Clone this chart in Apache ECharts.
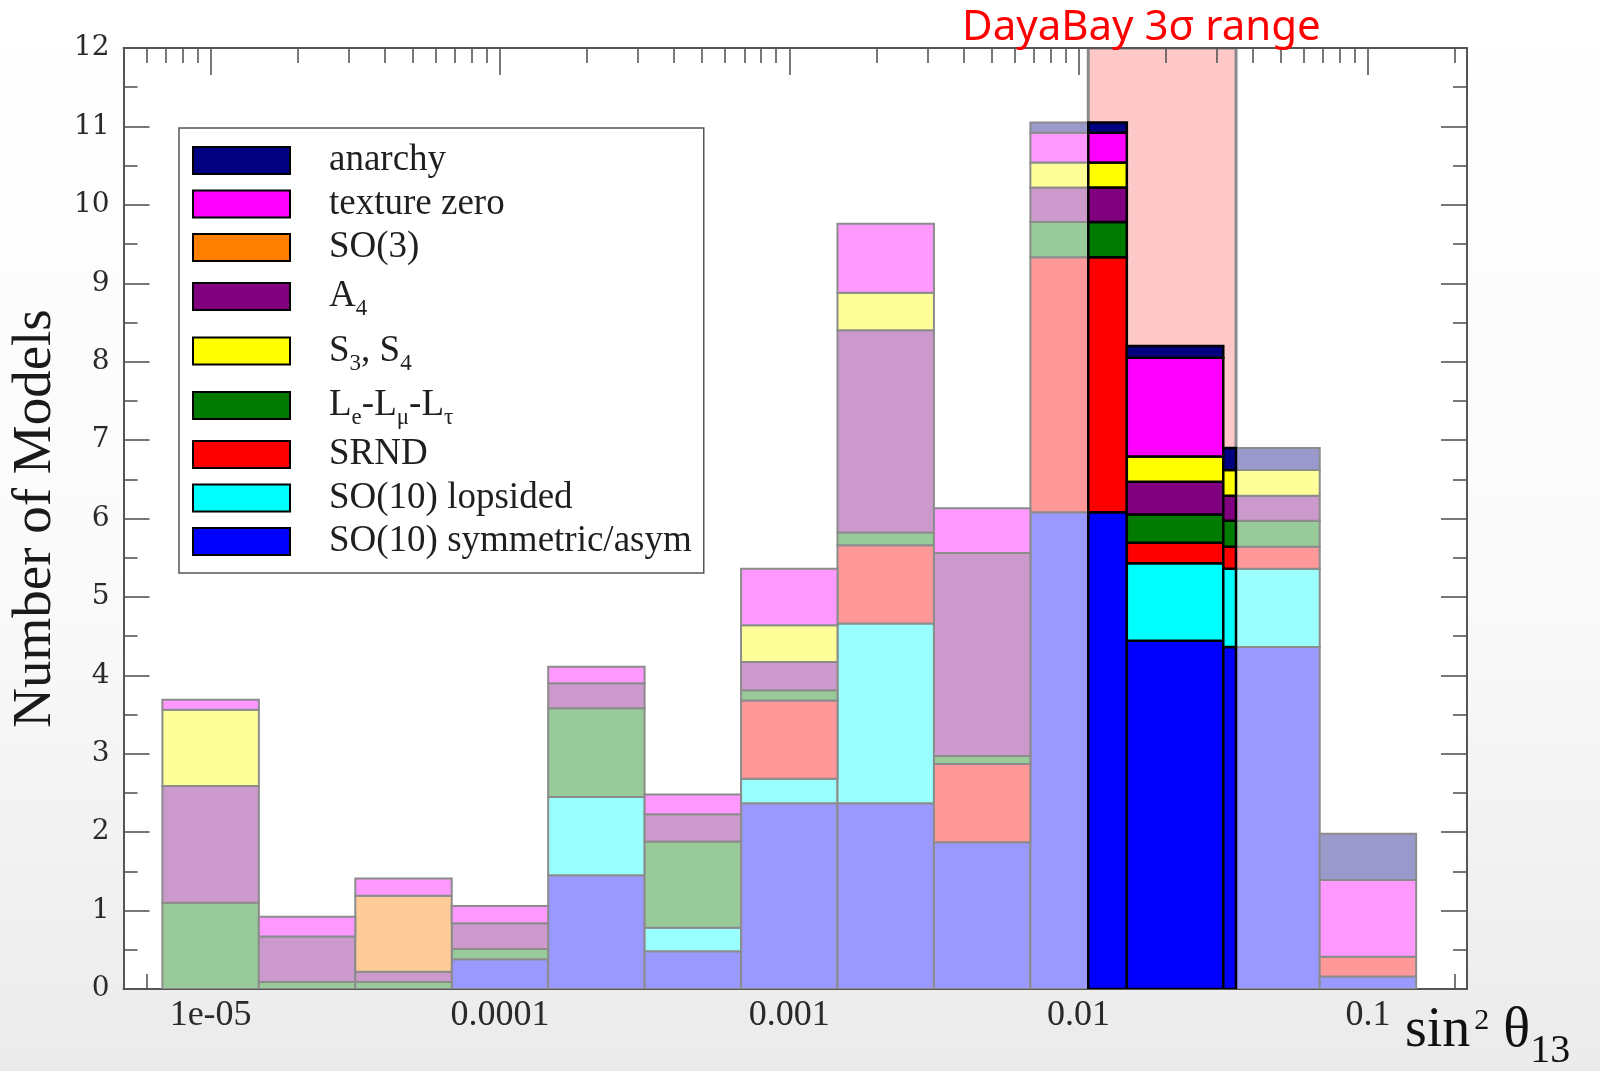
<!DOCTYPE html>
<html>
<head>
<meta charset="utf-8">
<script src="https://cdn.jsdelivr.net/npm/echarts@6/dist/echarts.min.js"></script>
<style>
  html, body { margin: 0; padding: 0; background: #ffffff; }
  #chart { width: 1600px; height: 1071px; }
</style>
</head>
<body>
<div id="chart"></div>
<script>
// Histogram bins: centres as log10(sin^2 theta13), one third of a decade wide
const binCenterExp = [-5, -4.6667, -4.3333, -4, -3.6667, -3.3333, -3, -2.6667, -2.3333, -2, -1.6667, -1.3333, -1];
const binHalfWidthExp = 1 / 6;

// Number of models per bin, one array per model class (bottom of the stack first)
const so10Symmetric = [0, 0, 0, 0.38, 1.45, 0.48, 2.37, 2.37, 1.87, 6.08, 4.44, 4.36, 0.16];
const so10Lopsided  = [0, 0, 0, 0, 1.00, 0.30, 0.31, 2.29, 0, 0, 0.99, 1.00, 0];
const srnd          = [0, 0, 0, 0, 0, 0, 1.00, 1.00, 1.00, 3.25, 0.26, 0.28, 0.25];
const leLmuLtau     = [1.10, 0.09, 0.09, 0.13, 1.13, 1.10, 0.13, 0.16, 0.10, 0.45, 0.36, 0.33, 0];
const a4            = [1.49, 0.58, 0.13, 0.33, 0.32, 0.35, 0.36, 2.58, 2.59, 0.44, 0.42, 0.32, 0];
const s3s4          = [0.97, 0, 0, 0, 0, 0, 0.47, 0.48, 0, 0.32, 0.32, 0.33, 0];
const so3           = [0, 0, 0.97, 0, 0, 0, 0, 0, 0, 0, 0, 0, 0];
const textureZero   = [0.13, 0.25, 0.22, 0.22, 0.21, 0.25, 0.72, 0.88, 0.57, 0.38, 1.26, 0, 0.98];
const anarchy       = [0, 0, 0, 0, 0, 0, 0, 0, 0, 0.13, 0.15, 0.28, 0.59];

// Daya Bay 3 sigma interval for sin^2 theta13
const dayaBayRange = [0.0108, 0.035];

// Axis ranges and tick labels
const xRange = [5e-6, 0.22];
const yRange = [0, 12];
const xTickExp = [-5, -4, -3, -2, -1];
const xTickLabels = ['1e-05', '0.0001', '0.001', '0.01', '0.1'];

const stackOrder = [
  { name: 'SO(10) symmetric/asym', color: '#0000ff', values: so10Symmetric },
  { name: 'SO(10) lopsided',       color: '#00ffff', values: so10Lopsided },
  { name: 'SRND',                  color: '#ff0000', values: srnd },
  { name: 'Le-Lμ-Lτ',              color: '#007a00', values: leLmuLtau },
  { name: 'A4',                    color: '#800080', values: a4 },
  { name: 'S3, S4',                color: '#ffff00', values: s3s4 },
  { name: 'SO(3)',                 color: '#ff8000', values: so3 },
  { name: 'texture zero',          color: '#ff00ff', values: textureZero },
  { name: 'anarchy',               color: '#000080', values: anarchy }
];
const legendOrder = ['anarchy', 'texture zero', 'SO(3)', 'A4', 'S3, S4', 'Le-Lμ-Lτ', 'SRND', 'SO(10) lopsided', 'SO(10) symmetric/asym'];
const legendText = {
  'A4': 'A{sub|4}',
  'S3, S4': 'S{sub|3}, S{sub|4}',
  'Le-Lμ-Lτ': 'L{sub|e}-L{sub|μ}-L{sub|τ}'
};

// washed-out tint used for the parts of the histogram outside the Daya Bay band
function pale(hex) {
  const n = parseInt(hex.slice(1), 16);
  const mix = c => Math.round(255 - 0.4 * (255 - c));
  return 'rgb(' + mix(n >> 16) + ',' + mix((n >> 8) & 255) + ',' + mix(n & 255) + ')';
}

// cumulative stacking of the bins
const base = binCenterExp.map(() => 0);
stackOrder.forEach(s => {
  s.data = [];
  s.values.forEach((v, i) => {
    const lo = base[i];
    base[i] += v;
    if (v > 0) {
      s.data.push([
        Math.pow(10, binCenterExp[i] - binHalfWidthExp),
        Math.pow(10, binCenterExp[i] + binHalfWidthExp),
        lo, lo + v
      ]);
    }
  });
});

function segmentRenderer(color) {
  const light = pale(color);
  return function (params, api) {
    const x0 = api.value(0), x1 = api.value(1), y0 = api.value(2), y1 = api.value(3);
    const lo = dayaBayRange[0], hi = dayaBayRange[1];
    const rect = (a, b, fill, stroke, lw) => {
      const p0 = api.coord([a, y1]);
      const p1 = api.coord([b, y0]);
      return {
        type: 'rect',
        shape: { x: p0[0], y: p0[1], width: p1[0] - p0[0], height: p1[1] - p0[1] },
        style: { fill: fill, stroke: stroke, lineWidth: lw }
      };
    };
    const parts = [];
    if (x0 < lo) parts.push(rect(x0, Math.min(x1, lo), light, '#8c8c8c', 2));
    if (x1 > hi) parts.push(rect(Math.max(x0, hi), x1, light, '#8c8c8c', 2));
    if (x1 > lo && x0 < hi) parts.push(rect(Math.max(x0, lo), Math.min(x1, hi), color, '#000000', 2.5));
    return { type: 'group', children: parts };
  };
}

const axisColor = '#555555';
const serif = 'Liberation Serif';

function xAxisDef(position, showLabels) {
  return {
    type: 'log',
    logBase: 10,
    position: position,
    min: xRange[0],
    max: xRange[1],
    z: 1,
    axisLine: { show: true, onZero: false, lineStyle: { color: axisColor, width: 2 } },
    axisTick: { show: true, inside: true, length: 27, lineStyle: { color: axisColor, width: 1.6 } },
    minorTick: { show: true, splitNumber: 9, length: 15, lineStyle: { color: axisColor, width: 1.6 } },
    splitLine: { show: false },
    minorSplitLine: { show: false },
    axisLabel: {
      show: showLabels,
      margin: 9,
      fontFamily: serif,
      fontSize: 36,
      color: '#2a2a2a',
      formatter: v => {
        const e = Math.log10(v);
        const r = Math.round(e);
        const i = xTickExp.indexOf(r);
        return (i >= 0 && Math.abs(e - r) < 1e-6) ? xTickLabels[i] : '';
      }
    }
  };
}

function yAxisDef(position, showLabels) {
  return {
    type: 'value',
    position: position,
    min: yRange[0],
    max: yRange[1],
    interval: 1,
    z: 1,
    axisLine: { show: true, onZero: false, lineStyle: { color: axisColor, width: 2 } },
    axisTick: { show: true, inside: true, length: 26, lineStyle: { color: axisColor, width: 1.6 } },
    minorTick: { show: true, splitNumber: 2, length: 14, lineStyle: { color: axisColor, width: 1.6 } },
    splitLine: { show: false },
    axisLabel: { show: showLabels, margin: 14, fontFamily: 'DejaVu Serif', fontSize: 28, color: '#2a2a2a' }
  };
}

const chart = echarts.init(document.getElementById('chart'), null, { renderer: 'canvas' });

const xMain = xAxisDef('bottom', true);
xMain.name = '{m|sin}{sup|2}{m| θ}{sub|13}';
xMain.nameLocation = 'end';
xMain.nameGap = -62;
xMain.nameTextStyle = {
  align: 'left',
  verticalAlign: 'top',
  padding: [2, 0, 0, 0],
  rich: {
    m:   { fontFamily: serif, fontSize: 56, lineHeight: 80, verticalAlign: 'middle', color: '#111' },
    sup: { fontFamily: serif, fontSize: 30, lineHeight: 80, verticalAlign: 'middle', color: '#111', padding: [0, 0, 20, 4] },
    sub: { fontFamily: serif, fontSize: 40, lineHeight: 80, verticalAlign: 'bottom', color: '#111' }
  }
};

const yMain = yAxisDef('left', true);
yMain.name = 'Number of Models';
yMain.nameLocation = 'middle';
yMain.nameRotate = 90;
yMain.nameGap = 58;
yMain.nameTextStyle = { fontFamily: serif, fontSize: 55, color: '#1a1a1a' };

const series = [{
  type: 'custom',
  name: 'Daya Bay band',
  z: 0,
  clip: true,
  silent: true,
  xAxisIndex: 0,
  yAxisIndex: 0,
  dimensions: ['x0', 'x1', 'y0', 'y1'],
  encode: { x: [0, 1], y: [2, 3] },
  data: [[dayaBayRange[0], dayaBayRange[1], yRange[0], yRange[1]]],
  renderItem: function (params, api) {
    const p0 = api.coord([api.value(0), api.value(3)]);
    const p1 = api.coord([api.value(1), api.value(2)]);
    return {
      type: 'rect',
      shape: { x: p0[0], y: p0[1], width: p1[0] - p0[0], height: p1[1] - p0[1] },
      style: { fill: '#ffc8c8', stroke: '#8a8a8a', lineWidth: 3 }
    };
  }
}];

stackOrder.forEach(s => {
  series.push({
    type: 'custom',
    name: s.name,
    z: 2,
    clip: true,
    xAxisIndex: 0,
    yAxisIndex: 0,
    itemStyle: { color: s.color },
    dimensions: ['x0', 'x1', 'y0', 'y1'],
    encode: { x: [0, 1], y: [2, 3] },
    data: s.data,
    renderItem: segmentRenderer(s.color)
  });
});

chart.setOption({
  animation: false,
  backgroundColor: new echarts.graphic.LinearGradient(0, 0, 0, 1, [
    { offset: 0, color: '#ffffff' },
    { offset: 0.55, color: '#fafafa' },
    { offset: 1, color: '#ebebeb' }
  ]),
  title: {
    text: 'DayaBay 3σ range',
    left: 957,
    top: 2,
    textStyle: { color: '#ff0000', fontFamily: 'Noto Sans', fontSize: 42, fontWeight: 'normal' }
  },
  grid: {
    left: 119, right: 133, top: 48, bottom: 79,
    show: true, backgroundColor: '#ffffff', borderWidth: 0
  },
  legend: {
    data: legendOrder,
    orient: 'vertical',
    left: 179,
    top: 128,
    padding: [14, 12, 13, 13],
    itemWidth: 97,
    itemHeight: 27,
    itemGap: 6.5,
    icon: 'rect',
    selectedMode: false,
    borderColor: '#555555',
    borderWidth: 1.5,
    itemStyle: { borderColor: '#000000', borderWidth: 2 },
    formatter: name => legendText[name] || name,
    textStyle: {
      fontFamily: serif,
      fontSize: 37,
      color: '#1f1f1f',
      lineHeight: 33,
      padding: [0, 0, 0, 34],
      rich: {
        sub: { fontFamily: serif, fontSize: 23, lineHeight: 48, verticalAlign: 'bottom', color: '#1f1f1f' }
      }
    }
  },
  xAxis: [xMain, xAxisDef('top', false)],
  yAxis: [yMain, yAxisDef('right', false)],
  series: series
});
</script>
</body>
</html>
